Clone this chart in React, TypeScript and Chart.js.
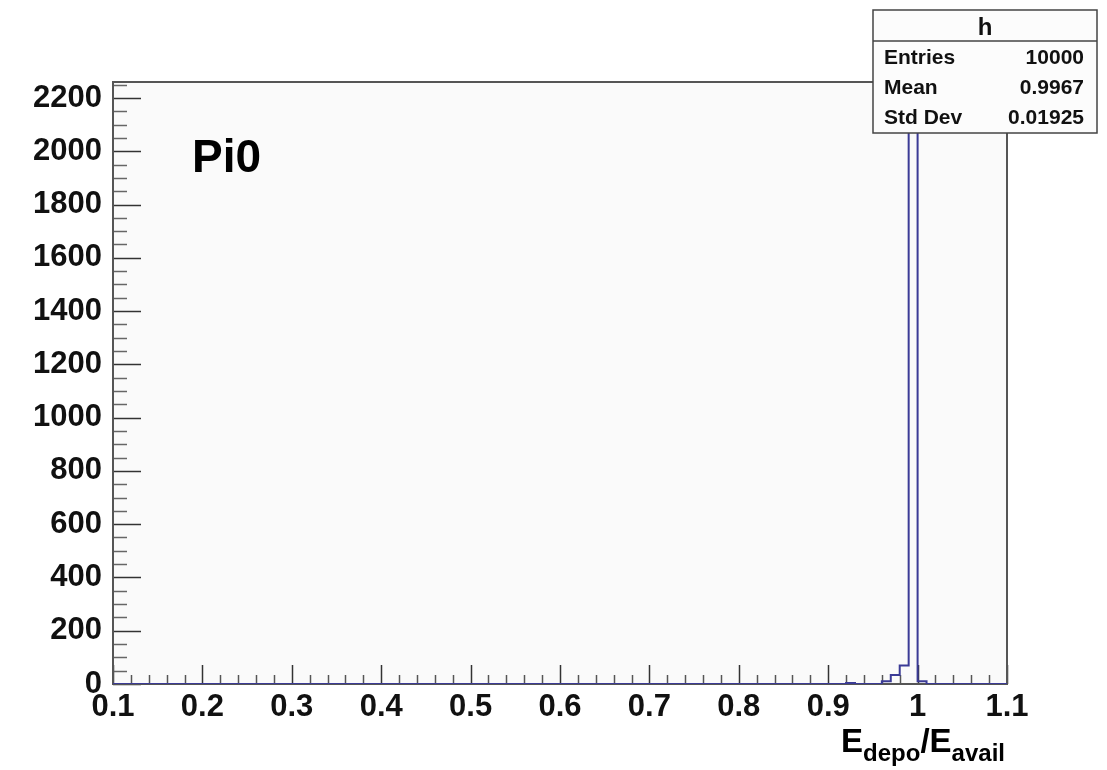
import React, { useEffect, useRef } from "react";
import { Chart, registerables } from "chart.js";

Chart.register(...registerables);

// Histogram: 100 bins of width 0.01 from 0.1 to 1.1
const binLowEdge = 0.1;
const binWidth = 0.01;
const binCounts: number[] = [
  0, 0, 0, 0, 0, 0, 0, 0, 0, 0, // 0.10-0.20
  0, 0, 0, 0, 0, 0, 0, 0, 0, 0, // 0.20-0.30
  0, 0, 0, 0, 0, 0, 0, 0, 0, 0, // 0.30-0.40
  0, 0, 0, 0, 0, 0, 0, 0, 0, 0, // 0.40-0.50
  0, 0, 0, 0, 0, 0, 0, 0, 0, 0, // 0.50-0.60
  0, 0, 0, 0, 0, 0, 0, 0, 0, 0, // 0.60-0.70
  0, 0, 0, 0, 0, 0, 0, 0, 0, 0, // 0.70-0.80
  0, 0, 0, 0, 0, 0, 0, 0, 0, 0, // 0.80-0.90
  0, 0, 4, 0, 0, 0, 10, 34, 69, 9873, // 0.90-1.00
  10, 0, 0, 0, 0, 0, 0, 0, 0, 0, // 1.00-1.10
];

const xTickValues = [0.1, 0.2, 0.3, 0.4, 0.5, 0.6, 0.7, 0.8, 0.9, 1.0, 1.1];
const xTickLabels = ["0.1", "0.2", "0.3", "0.4", "0.5", "0.6", "0.7", "0.8", "0.9", "1", "1.1"];
const yTickLabels = ["0", "200", "400", "600", "800", "1000", "1200", "1400", "1600", "1800", "2000", "2200"];
const yMax = 2260;

const histName = "h";
const statNames = ["Entries", "Mean", "Std Dev"];
const statValues = ["10000", "0.9967", "0.01925"];
const plotLabel = "Pi0";

const FONT = "'Liberation Sans', Arial, Helvetica, sans-serif";
const LINE_COLOR = "#3b3b96";

export default function App() {
  const canvasRef = useRef<HTMLCanvasElement | null>(null);

  useEffect(() => {
    const canvas = canvasRef.current;
    if (!canvas) return;

    const points: { x: number; y: number }[] = binCounts.map((c, i) => ({
      x: binLowEdge + i * binWidth,
      y: c,
    }));
    points.push({ x: binLowEdge + binCounts.length * binWidth, y: 0 });

    const decorPlugin = {
      id: "rootDecor",
      beforeDraw(chart: any) {
        const { ctx, chartArea } = chart;
        ctx.save();
        ctx.fillStyle = "#ffffff";
        ctx.fillRect(0, 0, chart.width, chart.height);
        ctx.fillStyle = "#fafafa";
        ctx.fillRect(chartArea.left, chartArea.top, chartArea.right - chartArea.left, chartArea.bottom - chartArea.top);
        ctx.restore();
      },
      beforeDatasetsDraw(chart: any) {
        const { ctx, chartArea } = chart;
        const xs = chart.scales.x;
        const ys = chart.scales.y;
        ctx.save();
        // x ticks (inward)
        for (let j = 0; j <= 50; j++) {
          const v = 0.1 + j * 0.02;
          const px = Math.round(xs.getPixelForValue(v)) + 0.5;
          const major = j % 5 === 0;
          ctx.strokeStyle = major ? "#333333" : "#555555";
          ctx.lineWidth = 1.5;
          ctx.beginPath();
          ctx.moveTo(px, chartArea.bottom);
          ctx.lineTo(px, chartArea.bottom - (major ? 19 : 9));
          ctx.stroke();
        }
        // y ticks (inward)
        for (let k = 0; k * 50 <= yMax; k++) {
          const v = k * 50;
          const py = Math.round(ys.getPixelForValue(v)) + 0.5;
          const major = k % 4 === 0;
          ctx.strokeStyle = major ? "#333333" : "#666666";
          ctx.lineWidth = 1.5;
          ctx.beginPath();
          ctx.moveTo(chartArea.left, py);
          ctx.lineTo(chartArea.left + (major ? 28 : 14), py);
          ctx.stroke();
        }
        // frame
        ctx.strokeStyle = "#555555";
        ctx.lineWidth = 2;
        ctx.strokeRect(chartArea.left, chartArea.top, chartArea.right - chartArea.left, chartArea.bottom - chartArea.top);
        ctx.restore();
      },
      afterDraw(chart: any) {
        const { ctx } = chart;
        ctx.save();
        // stats box
        const bx = 873, by = 10, bw = 224, bh = 123;
        ctx.fillStyle = "#fcfcfc";
        ctx.fillRect(bx, by, bw, bh);
        ctx.strokeStyle = "#444444";
        ctx.lineWidth = 1.5;
        ctx.strokeRect(bx, by, bw, bh);
        ctx.beginPath();
        ctx.moveTo(bx, 41);
        ctx.lineTo(bx + bw, 41);
        ctx.stroke();
        ctx.fillStyle = "#111111";
        ctx.textBaseline = "alphabetic";
        ctx.font = `bold 24px ${FONT}`;
        ctx.textAlign = "center";
        ctx.fillText(histName, bx + bw / 2, 35);
        ctx.font = `bold 21px ${FONT}`;
        const baselines = [64, 94, 124];
        statNames.forEach((n, i) => {
          ctx.textAlign = "left";
          ctx.fillText(n, 884, baselines[i]);
          ctx.textAlign = "right";
          ctx.fillText(statValues[i], 1084, baselines[i]);
        });
        // Pi0 label
        ctx.textAlign = "left";
        ctx.fillStyle = "#000000";
        ctx.font = `bold 46px ${FONT}`;
        ctx.fillText(plotLabel, 192, 172);
        // x axis title E_depo/E_avail
        const big = `bold 33px ${FONT}`;
        const small = `bold 24px ${FONT}`;
        const parts: [string, string, number][] = [
          ["E", big, 0],
          ["depo", small, 9],
          ["/", big, 0],
          ["E", big, 0],
          ["avail", small, 9],
        ];
        let total = 0;
        parts.forEach(([t, f]) => {
          ctx.font = f;
          total += ctx.measureText(t).width;
        });
        let x = 1005 - total;
        const base = 752;
        parts.forEach(([t, f, dy]) => {
          ctx.font = f;
          ctx.fillText(t, x, base + dy);
          x += ctx.measureText(t).width;
        });
        ctx.restore();
      },
    };

    const chart = new Chart(canvas, {
      type: "line",
      data: {
        datasets: [
          {
            data: points,
            stepped: "before",
            borderColor: LINE_COLOR,
            borderWidth: 2,
            pointRadius: 0,
            fill: false,
          },
        ],
      },
      options: {
        animation: false,
        responsive: false,
        maintainAspectRatio: false,
        layout: { padding: { left: 0, top: 82, right: 100, bottom: 0 } },
        plugins: {
          legend: { display: false },
          tooltip: { enabled: false },
          title: { display: false },
        },
        scales: {
          x: {
            type: "linear",
            min: 0.1,
            max: 1.1,
            border: { display: false },
            grid: { display: false, drawTicks: false },
            afterBuildTicks(scale: any) {
              scale.ticks = xTickValues.map((v) => ({ value: v }));
            },
            afterFit(scale: any) {
              scale.height = 86;
            },
            ticks: {
              padding: 5,
              maxRotation: 0,
              autoSkip: false,
              color: "#111111",
              font: { family: FONT, size: 31, weight: "bold" },
              callback: (_v: any, i: number) => xTickLabels[i],
            },
          },
          y: {
            type: "linear",
            min: 0,
            max: yMax,
            border: { display: false },
            grid: { display: false, drawTicks: false },
            afterBuildTicks(scale: any) {
              scale.ticks = yTickLabels.map((l) => ({ value: Number(l) }));
            },
            afterFit(scale: any) {
              scale.width = 113;
            },
            ticks: {
              padding: 11,
              autoSkip: false,
              color: "#111111",
              font: { family: FONT, size: 31, weight: "bold" },
              callback: (_v: any, i: number) => yTickLabels[i],
            },
          },
        },
      },
      plugins: [decorPlugin],
    } as any);

    return () => chart.destroy();
  }, []);

  return (
    <div style={{ position: "absolute", left: 0, top: 0, width: 1107, height: 770, background: "#ffffff" }}>
      <canvas ref={canvasRef} width={1107} height={770} />
    </div>
  );
}
